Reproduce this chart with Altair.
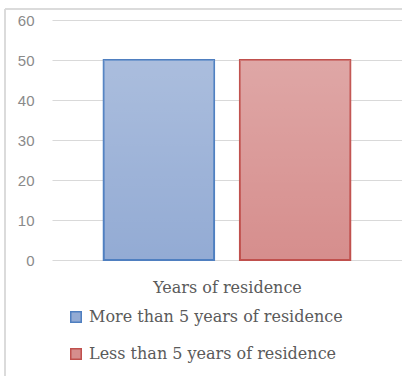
import altair as alt
import pandas as pd

# Share of respondents by length of residence
series = ["More than 5 years of residence", "Less than 5 years of residence"]
values = [50, 50]
fill_colors = ["#93abd4", "#d68e8d"]
stroke_colors = ["#4f7fc0", "#c0504d"]

df = pd.DataFrame({"group": series, "value": values})

x_enc = alt.X(
    "group:N",
    sort=series,
    scale=alt.Scale(paddingInner=0.19, paddingOuter=0.38),
    axis=alt.Axis(
        title="Years of residence",
        labels=False,
        ticks=False,
        domain=False,
        titleFont="DejaVu Serif",
        titleFontSize=16,
        titleFontWeight="normal",
        titleColor="#5a5a5a",
        titlePadding=19,
    ),
)
y_enc = alt.Y(
    "value:Q",
    scale=alt.Scale(domain=[0, 60]),
    axis=alt.Axis(
        title=None,
        values=[0, 10, 20, 30, 40, 50, 60],
        labelOverlap=False,
        ticks=False,
        domain=False,
        grid=True,
        gridColor="#d9d9d9",
        gridWidth=1.2,
        labelFont="Liberation Sans",
        labelFontSize=15,
        labelColor="#8a8a8a",
        labelPadding=18,
    ),
)

bars = alt.Chart(df).mark_bar(strokeWidth=2).encode(
    x=x_enc,
    y=y_enc,
    fill=alt.Fill(
        "group:N",
        sort=series,
        scale=alt.Scale(domain=series, range=fill_colors),
        legend=alt.Legend(
            title=None,
            orient="none",
            legendX=16,
            legendY=289,
            direction="vertical",
            symbolType="square",
            symbolSize=110,
            symbolStrokeWidth=1.5,
            labelFont="DejaVu Serif",
            labelFontSize=16,
            labelColor="#5a5a5a",
            labelLimit=0,
            rowPadding=19,
            labelOffset=5,
        ),
    ),
    stroke=alt.Stroke(
        "group:N",
        sort=series,
        scale=alt.Scale(domain=series, range=stroke_colors),
        legend=None,
    ),
)

# soft vertical shading: lighter at the top of each bar
shade = alt.Chart(df).mark_bar(
    fill=alt.Gradient(
        gradient="linear",
        stops=[
            alt.GradientStop(color="rgba(255,255,255,0.22)", offset=0),
            alt.GradientStop(color="rgba(255,255,255,0)", offset=1),
        ],
        x1=0, x2=0, y1=0, y2=1,
    ),
    strokeWidth=0,
).encode(x=x_enc, y=y_enc)

# outer chart frame: left and top edges
frame_left = alt.Chart(df).mark_rule(stroke="#d9d9d9", strokeWidth=1.5).encode(
    x=alt.value(-47), y=alt.value(-11), y2=alt.value(356),
)
frame_top = alt.Chart(df).mark_rule(stroke="#d9d9d9", strokeWidth=1.5).encode(
    x=alt.value(-47), x2=alt.value(350), y=alt.value(-11),
)

chart = alt.layer(frame_left, frame_top, bars, shade).properties(
    width=350,
    height=240,
    autosize=alt.AutoSizeParams(type="none"),
    padding={"left": 52, "top": 20, "right": 0, "bottom": 116},
).configure(background="white").configure_view(stroke=None)

chart.save("out.html", embed_options={"renderer": "svg", "actions": False})
